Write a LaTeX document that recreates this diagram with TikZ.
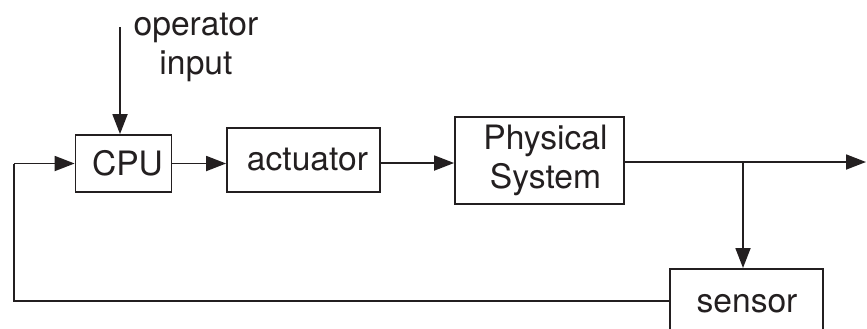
\documentclass[tikz,border=0pt]{standalone}
\usepackage{fontspec}
\setmainfont{TeX Gyre Heros}
\usetikzlibrary{arrows.meta}
\definecolor{ink}{RGB}{35,31,32}
\begin{document}
\begin{tikzpicture}[x=0.5pt,y=-0.5pt,
  every node/.style={font=\fontsize{16.8}{19.5}\selectfont, text=ink},
  blockbox/.style={draw=ink, line width=0.9pt, inner sep=0pt, align=center},
  arr/.style={draw=ink, line width=0.9pt, -{Triangle[length=10pt,width=7.5pt]}},
  wire/.style={draw=ink, line width=0.9pt}]
\clip (0,0) rectangle (867,328);
\node[blockbox, minimum width=48pt, minimum height=28.5pt] (cpu) at (123.5,163.5) {\hspace*{4pt}CPU};
\node[blockbox, minimum width=76.5pt, minimum height=32pt] (act) at (303.5,160) {\hspace*{4pt}actuator};
\node[blockbox, minimum width=84.5pt, minimum height=43.5pt] (phys) at (539.5,160.5) {\hspace*{6pt}Physical\\\hspace*{6pt}System};
\node[blockbox, minimum width=76.5pt, minimum height=36pt, anchor=north] (sensor) at (746.5,268) {};
\node[anchor=base] (sensortext) at (747,312) {sensor};
\node[align=center, anchor=north] (op) at (196,6) {operator\\input};
\coordinate (opTop) at (120,27);
\coordinate (mainrow) at (0,163);
\coordinate (br) at (743,162);
\coordinate (out) at (866,162);
\coordinate (cornerB) at (14,301);
\coordinate (cornerT) at (14,163.5);
\draw[arr] (opTop) -- (cpu.north -| opTop);
\draw[arr] (cpu.east) -- (act.west |- cpu.east);
\draw[arr] (act.east |- mainrow) -- (phys.west |- mainrow);
\draw[arr] (phys.east |- out) -- (out);
\draw[arr] (br) -- (sensor.north -| br);
\draw[wire] (sensor.west |- cornerB) -- (cornerB) -- (cornerT);
\draw[arr] (cornerT) -- (cpu.west);
\end{tikzpicture}
\end{document}
